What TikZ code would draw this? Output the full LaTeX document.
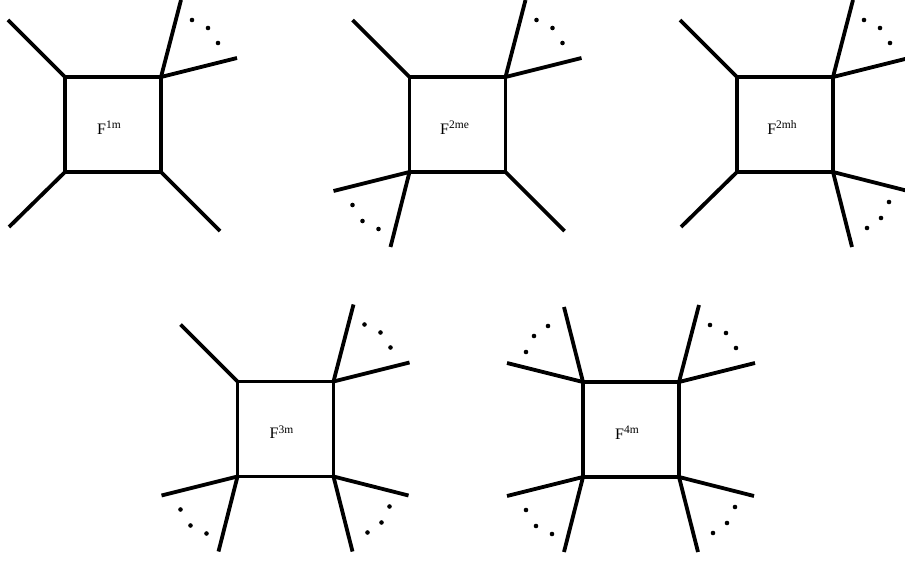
\documentclass[tikz,border=0pt]{standalone}
\usepackage{fontspec}
\setmainfont{Liberation Serif}
\begin{document}
\begin{tikzpicture}[x=1pt,y=-1pt,
  facet/.style={draw, line width=3.8pt, minimum width=96pt, minimum height=95pt,
                inner sep=0pt, outer sep=0pt},
  leg/.style={line width=3.8pt},
  tag/.style={inner sep=0pt, font=\fontsize{16}{16}\selectfont}]
\useasboundingbox (0,0) rectangle (905,561);

% label: F with a raised superscript
\newcommand\flabel[1]{F\raisebox{5.5pt}{\fontsize{11.5}{11.5}\selectfont #1}}
% three dots between two legs
\newcommand\dotsat[7]{%
  \foreach \p in {(#2,#3),(#4,#5),(#6,#7)} \fill (#1) ++\p circle (2.3pt);}
% single outer leg
\newcommand\oneleg[3]{\draw[leg] (#1) -- ++(#2,#3);}
% two legs with dots, one per corner direction
\newcommand\fanTR[1]{%
  \draw[leg] (#1.north east) -- ++(20,-77);
  \draw[leg] (#1.north east) -- ++(76,-19);
  \dotsat{#1.north east}{31}{-57}{47}{-49}{57}{-34}}
\newcommand\fanTL[1]{%
  \draw[leg] (#1.north west) -- ++(-19,-75);
  \draw[leg] (#1.north west) -- ++(-76,-19);
  \dotsat{#1.north west}{-35}{-56}{-49}{-46}{-57}{-30}}
\newcommand\fanBL[1]{%
  \draw[leg] (#1.south west) -- ++(-76,19);
  \draw[leg] (#1.south west) -- ++(-19,75);
  \dotsat{#1.south west}{-57}{33}{-47}{49}{-31}{57}}
\newcommand\fanBR[1]{%
  \draw[leg] (#1.south east) -- ++(75,19);
  \draw[leg] (#1.south east) -- ++(19,75);
  \dotsat{#1.south east}{56}{30}{48}{46}{34}{56}}

% boxes
\node[facet] (b1) at (113,124.5) {};
\node[facet] (b2) at (457.5,124.5) {};
\node[facet] (b3) at (785,124.5) {};
\node[facet] (b4) at (285.5,429) {};
\node[facet] (b5) at (631,429.5) {};

% labels
\node[tag] (t1) at ([shift={(-4,3)}]b1.center) {\flabel{1m}};
\node[tag] (t2) at ([shift={(-3,3)}]b2.center) {\flabel{2me}};
\node[tag] (t3) at ([shift={(-3,3)}]b3.center) {\flabel{2mh}};
\node[tag] (t4) at ([shift={(-4,3)}]b4.center) {\flabel{3m}};
\node[tag] (t5) at ([shift={(-4,3)}]b5.center) {\flabel{4m}};

% F^{1m}
\oneleg{b1.north west}{-57}{-57}
\fanTR{b1}
\oneleg{b1.south west}{-56}{55}
\oneleg{b1.south east}{59}{59}

% F^{2me}
\oneleg{b2.north west}{-57}{-57}
\fanTR{b2}
\fanBL{b2}
\oneleg{b2.south east}{59}{59}

% F^{2mh}
\oneleg{b3.north west}{-57}{-57}
\fanTR{b3}
\oneleg{b3.south west}{-56}{55}
\fanBR{b3}

% F^{3m}
\oneleg{b4.north west}{-57}{-57}
\fanTR{b4}
\fanBL{b4}
\fanBR{b4}

% F^{4m}
\fanTL{b5}
\fanTR{b5}
\fanBL{b5}
\fanBR{b5}
\end{tikzpicture}
\end{document}
